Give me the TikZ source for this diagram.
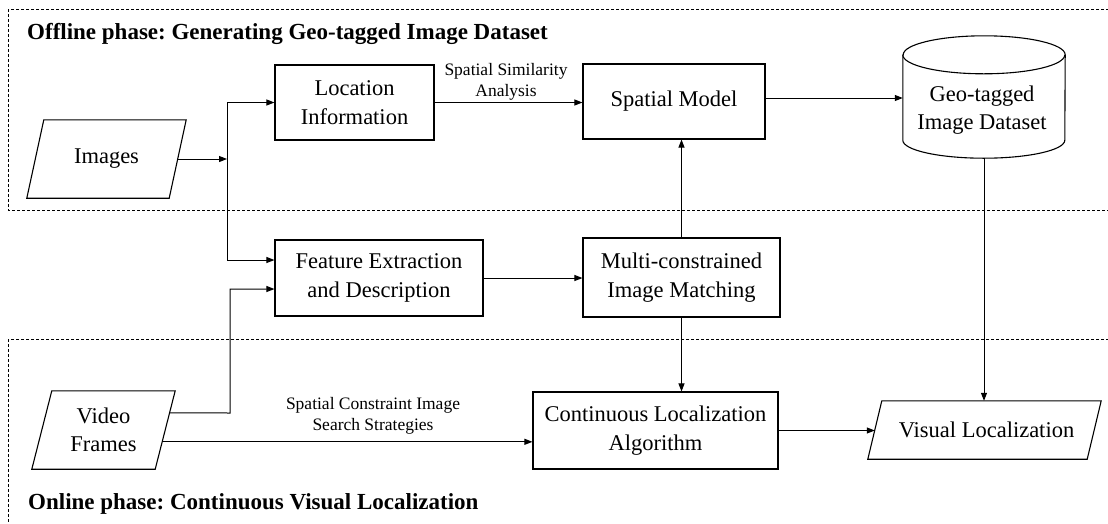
\documentclass[tikz,border=0pt]{standalone}
\usepackage{fontspec}
\setmainfont{Liberation Serif}
\usetikzlibrary{arrows.meta,calc}
\frenchspacing
\begin{document}
\begin{tikzpicture}[x=1pt,y=1pt,
  box/.style={draw, line width=1.1pt, inner sep=0pt, align=center, font=\fontsize{22.5}{28.5}\selectfont},
  ghost/.style={inner sep=0pt, align=center, font=\fontsize{22.5}{28.5}\selectfont},
  shp/.style={line width=1.1pt, line join=miter},
  arr/.style={line width=1pt, -{Triangle[length=8pt,width=6pt]}},
  lab/.style={align=center, font=\fontsize{17.5}{21}\selectfont, inner sep=0pt},
  ttl/.style={font=\fontsize{23}{28}\selectfont\bfseries, inner sep=0pt, anchor=base west},
  phase/.style={line width=0.8pt, dash pattern=on 3pt off 2pt}]
\useasboundingbox (0,0) rectangle (1108,-523);
\clip (0,0) rectangle (1108,-523);
% phase frames
\draw[phase] (8,-9) rectangle (1130,-210);
\draw[phase] (8,-339) rectangle (1130,-560);
\node[ttl] (off) at (27,-39) {Offline phase: Generating Geo-tagged Image Dataset};
\node[ttl] (on) at (28,-509) {Online phase: Continuous Visual Localization};
% boxes
\node[box, minimum width=159pt, minimum height=75pt] (loc) at (354.5,-102.5) {Location\\Information};
\node[box, minimum width=182pt, minimum height=75pt] (spatial) at (674,-101.5) {Spatial Model};
\node[box, minimum width=208pt, minimum height=76pt] (feat) at (379,-278) {Feature Extraction\\and Description};
\node[box, minimum width=197pt, minimum height=79pt] (multi) at (681.5,-277.5) {Multi-constrained\\Image Matching};
\node[box, minimum width=245pt, minimum height=77pt] (cont) at (655.5,-430.5) {Continuous Localization\\Algorithm};
% parallelograms
\node[ghost, minimum width=159pt, minimum height=78pt] (images) at (106.5,-159) {Images};
\draw[shp] (images.south west) -- ($(images.north west)+(17,0)$) -- (images.north east) -- ($(images.south east)+(-17,0)$) -- cycle;
\node[ghost, minimum width=143pt, minimum height=78pt] (video) at (103.5,-430) {Video\\Frames};
\draw[shp] (video.south west) -- ($(video.north west)+(20,0)$) -- (video.north east) -- ($(video.south east)+(-20,0)$) -- cycle;
\node[ghost, minimum width=233pt, minimum height=58pt] (visual) at (984.5,-430) {\hspace*{4pt}Visual Localization};
\draw[shp] (visual.south west) -- ($(visual.north west)+(14,0)$) -- (visual.north east) -- ($(visual.south east)+(-14,0)$) -- cycle;
% cylinder
\node[ghost, minimum width=162pt, minimum height=122pt] (geo) at (984,-97) {};
\draw[shp] ($(geo.north west)+(0,-19)$) -- ($(geo.south west)+(0,18)$)
  arc[start angle=180,end angle=360,x radius=81,y radius=18]
  -- ($(geo.north east)+(0,-19)$)
  arc[start angle=0,end angle=180,x radius=81,y radius=19] -- cycle;
\draw[shp] ($(geo.north west)+(0,-19)$) arc[start angle=180,end angle=360,x radius=81,y radius=19];
\node[ghost] (geotxt) at (982,-110) {Geo-tagged\\Image Dataset};
% labels
\node[lab] (ssa) at (506,-82) {Spatial Similarity\\Analysis};
\node[lab] (scs) at (373,-416) {Spatial Constraint Image\\Search Strategies};
% connectors
\coordinate (j) at (227,-159);
\coordinate (imgout) at ($(images.east)+(-8.5,0)$);
\draw[arr] (imgout) -- (j);
\draw[arr] (j) |- (loc.west);
\draw[arr] (j) |- ($(feat.west)+(0,18)$);
\coordinate (vo1) at ($(video.north east)+(-5.6,-22)$);
\coordinate (vo2) at ($(video.north east)+(-13.1,-51)$);
\coordinate (vb) at (230,-413);
\draw[arr] (vo1) -- (vb) |- ($(feat.west)+(0,-11)$);
\draw[arr] (vo2) -- (vo2 -| cont.west);
\draw[arr] (loc.east) -- (loc.east -| spatial.west);
\coordinate (spout) at ($(spatial.east)+(0,3.5)$);
\draw[arr] (spout) -- (spout -| geo.west);
\draw[arr] (feat.east) -- (feat.east -| multi.west);
\draw[arr] (multi.north) -- (multi.north |- spatial.south);
\draw[arr] (multi.south) -- (multi.south |- cont.north);
\coordinate (visin) at ($(visual.west)+(7,0)$);
\draw[arr] (cont.east) -- (cont.east -| visin);
\draw[arr] (geo.south) -- (geo.south |- visual.north);
\end{tikzpicture}
\end{document}
